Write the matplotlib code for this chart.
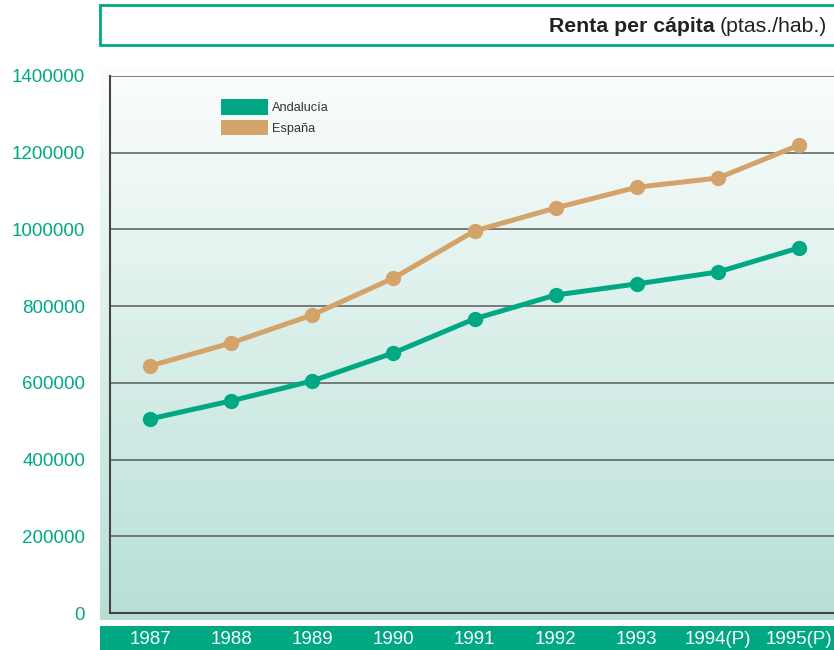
import numpy as np
import matplotlib.pyplot as plt
from matplotlib.patches import Rectangle, Patch

plt.rcParams["font.family"] = ["Liberation Sans", "DejaVu Sans"]

years = ["1987", "1988", "1989", "1990", "1991", "1992", "1993", "1994(P)", "1995(P)"]
andalucia = [506000, 553000, 605000, 678000, 767000, 829000, 858000, 889000, 952000]
espana = [644000, 704000, 777000, 873000, 996000, 1056000, 1110000, 1134000, 1220000]
yticks = [0, 200000, 400000, 600000, 800000, 1000000, 1200000, 1400000]

TEAL = "#00a884"
SAND = "#d4a36a"
W, H = 834, 650

fig = plt.figure(figsize=(W / 100, H / 100), dpi=100)


def fx(px):
    return px / W


def fy(py):
    return 1 - py / H


# gradient backdrop behind the plot
bg = fig.add_axes([fx(100), fy(620), fx(734), (620 - 68) / H], zorder=-2)
grad = np.linspace(0, 1, 256)[:, None]
top = np.array([0.985, 0.995, 0.99])
bot = np.array([0.72, 0.875, 0.84])
img = top[None, None, :] * (1 - grad[..., None]) + bot[None, None, :] * grad[..., None]
bg.imshow(img, aspect="auto", extent=[0, 1, 0, 1])
bg.set_axis_off()

# title box
fig.patches.append(Rectangle((fx(100), fy(45)), fx(740), 40 / H, transform=fig.transFigure,
                             facecolor="white", edgecolor=TEAL, linewidth=2, zorder=-5))
# year band
fig.patches.append(Rectangle((fx(100), 0), fx(734), 24 / H, transform=fig.transFigure,
                             facecolor=TEAL, edgecolor="none", zorder=-5))

ax = fig.add_axes([fx(110), fy(613), fx(724), (613 - 76) / H])
ax.patch.set_alpha(0)
x = np.arange(len(years))
ax.plot(x, espana, color=SAND, lw=3.6, marker="o", ms=10, zorder=3)
ax.plot(x, andalucia, color=TEAL, lw=3.6, marker="o", ms=10, zorder=3)

ax.set_xlim(-0.493, 8.43)
ax.set_ylim(0, 1400000)
ax.set_yticks(yticks)
ax.set_yticklabels([str(v) for v in yticks])
ax.set_xticks(x)
ax.set_xticklabels(years)
ax.tick_params(axis="y", length=0, pad=18, labelsize=13.5, labelcolor=TEAL)
ax.tick_params(axis="x", length=0, pad=13, labelsize=13.5, labelcolor="white")
ax.yaxis.grid(True, color="#5a5a5a", lw=1.1)
ax.set_axisbelow(True)
for s in ["top", "right"]:
    ax.spines[s].set_visible(False)
for s in ["left", "bottom"]:
    ax.spines[s].set_color("#444444")
    ax.spines[s].set_linewidth(1.5)
ax.spines["left"].set_bounds(0, 1400000)

handles = [Patch(facecolor=TEAL, label="Andalucía"), Patch(facecolor=SAND, label="España")]
fig.legend(handles=handles, loc="upper left", bbox_to_anchor=(fx(209), fy(88)),
           frameon=False, fontsize=9.2, handlelength=3.75, handleheight=1.45,
           handletextpad=0.3, labelspacing=0.4, labelcolor="#333333")

# title: bold part followed by units
renderer = fig.canvas.get_renderer()
unit = fig.text(fx(827), fy(26), "(ptas./hab.)", ha="right", va="center",
                fontsize=15.3, color="#222222")
bb = unit.get_window_extent(renderer)
fig.text(bb.x0 / fig.dpi / fig.get_figwidth() - fx(5), fy(26), "Renta per cápita",
         ha="right", va="center", fontsize=15.3, fontweight="bold", color="#222222")

fig.savefig("out.png", dpi=100)
